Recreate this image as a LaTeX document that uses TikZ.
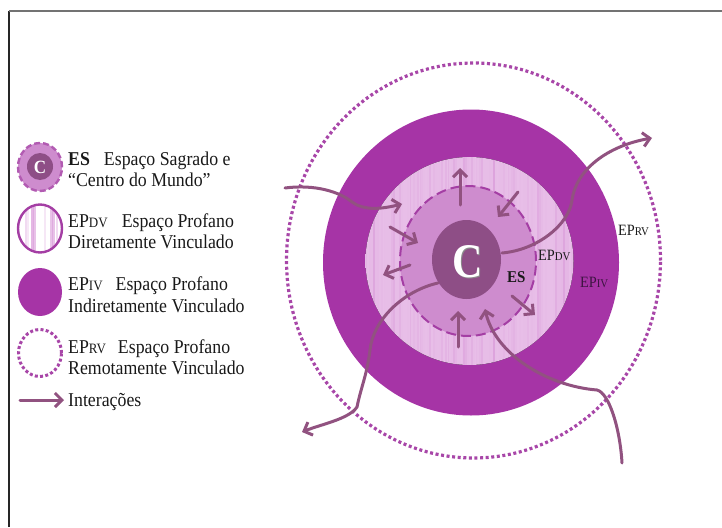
\documentclass[tikz,border=0pt]{standalone}
\usepackage{fontspec}
\setmainfont{Liberation Serif}
\usetikzlibrary{arrows.meta,shapes.geometric}
\definecolor{ringc}{RGB}{166,52,166}
\definecolor{esfill}{RGB}{206,140,206}
\definecolor{esborder}{RGB}{164,62,164}
\definecolor{cdisc}{RGB}{142,78,134}
\definecolor{arrowc}{RGB}{145,82,128}
\definecolor{dotc}{RGB}{168,70,168}
\definecolor{stripec}{RGB}{210,135,210}
\definecolor{epdvedge}{RGB}{232,190,232}
\definecolor{txtc}{RGB}{25,25,25}
\definecolor{ivtxt}{RGB}{60,20,65}
\newcommand{\smcap}[2]{{\fontsize{#1}{#1}\selectfont #2}}
\begin{document}
\begin{tikzpicture}[x=1pt,y=-1pt,
  inter/.style={draw=arrowc, line width=3pt, line cap=round,
    -{Straight Barb[length=7pt,width=14pt]}},
  disc/.style={ellipse, inner sep=0pt, outer sep=0pt},
  lg/.style={anchor=base west, inner sep=0pt, text=txtc, yscale=1.1,
    font=\fontsize{17.8}{20}\selectfont},
  lab/.style={anchor=base west, inner sep=0pt, text=txtc, yscale=1.1,
    font=\fontsize{14.3}{16}\selectfont}]
\useasboundingbox (0,0) rectangle (722,527);
% frame
\coordinate (f1) at (9,527); \coordinate (f2) at (9,11); \coordinate (f3) at (722,11);
\draw[black!85, line width=1.6pt] (f1) -- (f2);
\draw[black!55, line width=2.2pt] (f2) -- (f3);

% ===== main diagram =====
\node[disc, draw=dotc, line width=3.2pt, dash pattern=on 3pt off 2.6pt,
  minimum width=374pt, minimum height=395pt] (rv) at (473.5,260.5) {};
\node[disc, fill=ringc, minimum width=296pt, minimum height=306pt] (iv) at (471,262.5) {};
\begin{scope}
\clip (469.5,261) ellipse [x radius=104, y radius=104];
\fill[left color=epdvedge, middle color=white, right color=epdvedge] (365,156) rectangle (574,366);
\pgfmathsetseed{11}
\foreach \k in {0,...,104} {
  \pgfmathsetmacro{\xx}{366+2*\k}
  \pgfmathsetmacro{\op}{0.75*rnd*rnd*rnd}
  \pgfmathsetmacro{\lw}{0.8+1.6*rnd}
  \draw[stripec, line width=\lw pt, opacity=\op] (\xx,150) -- (\xx,372);
}
\end{scope}
\node[disc, minimum size=208pt] (dv) at (469.5,261) {};
\node[disc, fill=esfill, draw=esborder, line width=2pt, dash pattern=on 10pt off 5pt,
  minimum width=136pt, minimum height=150pt] (es) at (468,261) {};
\node[disc, fill=cdisc, minimum width=69pt, minimum height=79pt] (cd) at (466.5,259.5) {};
\node[inner sep=0pt, text=black!45, yscale=1.15, font=\fontsize{42}{42}\selectfont\bfseries] (cshadow) at (469,263) {C};
\node[inner sep=0pt, text=white, yscale=1.15, font=\fontsize{42}{42}\selectfont\bfseries] (cbig) at (467.5,261.5) {C};

% labels
\node[lab, font=\fontsize{15}{16}\selectfont\bfseries] (esl) at (507,282) {ES};
\node[lab] (dvl) at (538,260) {EP\smcap{10.8}{DV}};
\node[lab, text=ivtxt] (ivl) at (580,287) {EP\smcap{10.8}{IV}};
\node[lab] (rvl) at (618,235) {EP\smcap{10.8}{RV}};

% curved interactions
\coordinate (a1) at (285,188); \coordinate (am) at (352,202); \coordinate (a2) at (402,204);
\draw[inter] (a1) .. controls +(30,-4) and +(-12,-10) .. (am) .. controls +(12,9) and +(-20,5) .. (a2);
\coordinate (b1) at (502,253); \coordinate (bm) at (572,200); \coordinate (b2) at (652,138);
\draw[inter] (b1) .. controls +(35,-3) and +(-3,25) .. (bm) .. controls +(4,-30) and +(-45,8) .. (b2);
\coordinate (c1) at (438,283); \coordinate (cm) at (370,350); \coordinate (cn) at (357,407); \coordinate (c2) at (302,432);
\draw[inter] (c1) .. controls +(-35,8) and +(3,-30) .. (cm) .. controls +(-3,25) and +(4,-20) .. (cn) .. controls +(-8,12) and +(20,-8) .. (c2);
\coordinate (d1) at (622,463); \coordinate (dm) at (597,390); \coordinate (d2) at (485,309);
\draw[inter] (d1) .. controls +(-2,-35) and +(12,3) .. (dm) .. controls +(-50,-4) and +(10,45) .. (d2);

% short interactions
\coordinate (s1a) at (460,205); \coordinate (s1b) at (460,168);
\coordinate (s2a) at (518,192); \coordinate (s2b) at (498,217);
\coordinate (s3a) at (390,227); \coordinate (s3b) at (418,243);
\coordinate (s4a) at (410,265); \coordinate (s4b) at (383,275);
\coordinate (s5a) at (512,296); \coordinate (s5b) at (535,315);
\coordinate (s6a) at (458,347); \coordinate (s6b) at (458,311);
\foreach \s in {1,...,6} { \draw[inter] (s\s a) -- (s\s b); }

% ===== legend =====
\node[disc, fill=esfill, draw=esborder!85, line width=2.4pt, dash pattern=on 6pt off 3pt,
  minimum width=44pt, minimum height=48pt] (k1) at (40,167) {};
\node[disc, fill=cdisc, minimum width=26pt, minimum height=27pt] (k1c) at (40,166.5) {};
\node[inner sep=0pt, text=white, yscale=1.1, font=\fontsize{17}{17}\selectfont\bfseries] (k1t) at (40,167) {C};

\begin{scope}
\clip (40,228.5) ellipse [x radius=22, y radius=24];
\fill[white] (15,200) rectangle (65,256);
\foreach \xx/\op in {26/0.3,28/0.2,32/0.6,33.5/0.7,35/0.5,45/0.2,51/0.5,52.5/0.7,54/0.5,57/0.3}
  { \draw[stripec, line width=1.3pt, opacity=\op] (\xx,200) -- (\xx,256); }
\end{scope}
\node[disc, draw=esborder, line width=2.4pt, minimum width=44pt, minimum height=48pt] (k2) at (40,228.5) {};

\node[disc, fill=ringc, minimum width=44pt, minimum height=48pt] (k3) at (40,292) {};
\node[disc, draw=dotc, line width=3pt, dash pattern=on 3pt off 2.3pt,
  minimum width=43pt, minimum height=47pt] (k4) at (40,353) {};
\coordinate (la1) at (20,400); \coordinate (la2) at (64,400);
\draw[inter] (la1) -- (la2);

\node[lg] (t1) at (68,165) {\textbf{ES}\hspace{14pt}Espaço Sagrado e};
\node[lg] (t2) at (68,186) {“Centro do Mundo”};
\node[lg] (t3) at (68,227) {EP\smcap{13}{DV}\hspace{14pt}Espaço Profano};
\node[lg] (t4) at (68,248) {Diretamente Vinculado};
\node[lg] (t5) at (68,290) {EP\smcap{13}{IV}\hspace{13pt}Espaço Profano};
\node[lg] (t6) at (68,312) {Indiretamente Vinculado};
\node[lg] (t7) at (68,353) {EP\smcap{13}{RV}\hspace{12pt}Espaço Profano};
\node[lg] (t8) at (68,374) {Remotamente Vinculado};
\node[lg] (t9) at (68,406) {Interações};
\end{tikzpicture}
\end{document}
